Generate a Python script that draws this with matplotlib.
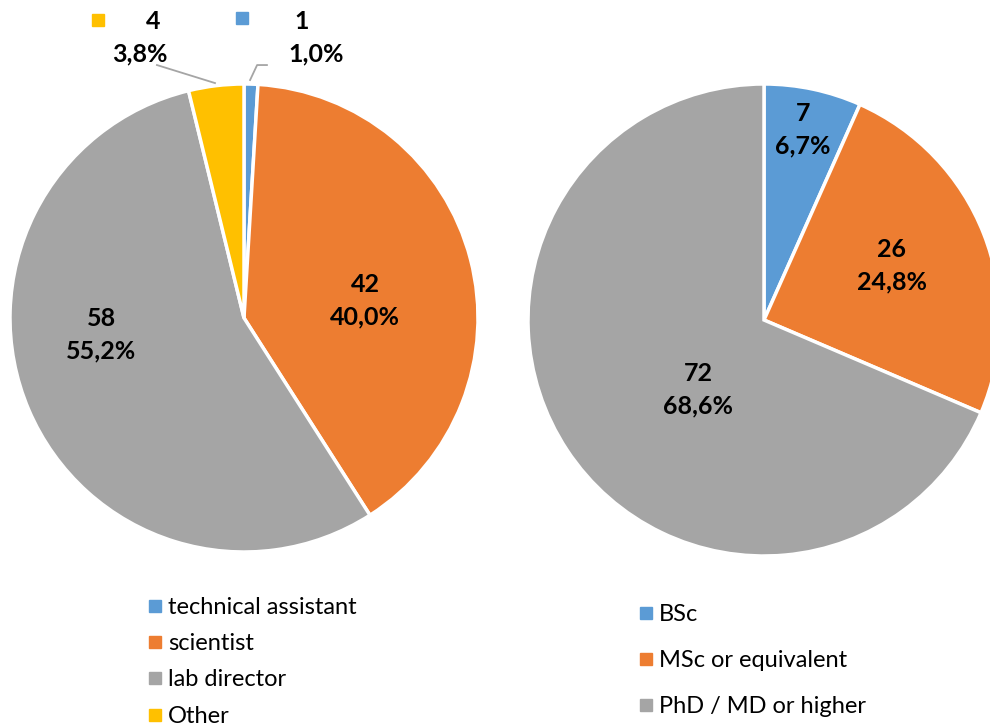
import matplotlib.pyplot as plt
from matplotlib.lines import Line2D

plt.rcParams['font.family'] = ['Lato', 'DejaVu Sans']

# left pie: position
roles = ["technical assistant", "scientist", "lab director", "Other"]
role_counts = [1, 42, 58, 4]
role_colors = ["#5B9BD5", "#ED7D31", "#A5A5A5", "#FFC000"]

# right pie: degree
degrees = ["BSc", "MSc or equivalent", "PhD / MD or higher"]
degree_counts = [7, 26, 72]
degree_colors = ["#5B9BD5", "#ED7D31", "#A5A5A5"]

W, H = 990, 727
fig = plt.figure(figsize=(W / 100, H / 100), dpi=100)


def pie_axes(cx, cy, r):
    return fig.add_axes([(cx - r) / W, (H - cy - r) / H, 2 * r / W, 2 * r / H])


def fix(ax):
    ax.set_xlim(-1, 1)
    ax.set_ylim(-1, 1)
    ax.axis("off")


def fmt(n, total):
    return f"{n}\n{n / total * 100:.1f}%".replace(".", ",")


FS = 18
lbl = dict(ha="center", va="center", fontsize=FS, fontweight="bold",
           linespacing=1.5, color="black")

# ---- left pie
ax1 = pie_axes(244, 318, 234)
ax1.pie(role_counts, colors=role_colors, startangle=90, counterclock=False,
        radius=1, wedgeprops=dict(edgecolor="white", linewidth=2.5))
fix(ax1)
tot1 = sum(role_counts)
ax1.text(0.517, 0.073, fmt(role_counts[1], tot1), **lbl)
ax1.text(-0.611, -0.073, fmt(role_counts[2], tot1), **lbl)

# outside labels for the small slices
for i, (sq, num, pct) in {3: ((-0.624, 1.274), (-0.389, 1.265), (-0.444, 1.128)),
                          0: ((-0.0085, 1.282), (0.248, 1.265), (0.308, 1.128))}.items():
    ax1.plot(*sq, marker="s", ms=8, color=role_colors[i], clip_on=False)
    ax1.text(*num, str(role_counts[i]), ha="center", va="center", fontsize=FS,
             fontweight="bold", clip_on=False)
    ax1.text(*pct, f"{role_counts[i] / tot1 * 100:.1f}%".replace(".", ","),
             ha="center", va="center", fontsize=FS, fontweight="bold", clip_on=False)
ax1.plot([-0.372, -0.124], [1.081, 1.004], color="#A5A5A5", lw=1.3, clip_on=False)
ax1.plot([0.098, 0.056, 0.026], [1.081, 1.081, 1.017], color="#A5A5A5", lw=1.3,
         clip_on=False)

# ---- right pie
ax2 = pie_axes(764, 320, 236)
ax2.pie(degree_counts, colors=degree_colors, startangle=90, counterclock=False,
        radius=1, wedgeprops=dict(edgecolor="white", linewidth=2.5))
fix(ax2)
tot2 = sum(degree_counts)
for (x, y), n in zip([(0.165, 0.805), (0.542, 0.229), (-0.28, -0.297)], degree_counts):
    ax2.text(x, y, fmt(n, tot2), **lbl)

# ---- legends
def handles(colors):
    return [Line2D([], [], marker="s", ls="", ms=8, color=c) for c in colors]


fig.legend(handles(role_colors), roles, loc="upper left",
           bbox_to_anchor=(136 / W, 1 - 585 / H), frameon=False, fontsize=17,
           handlelength=0.6, handletextpad=0.25, labelspacing=0.65, borderpad=0)
fig.legend(handles(degree_colors), degrees, loc="upper left",
           bbox_to_anchor=(627 / W, 1 - 592 / H), frameon=False, fontsize=17,
           handlelength=0.6, handletextpad=0.25, labelspacing=1.06, borderpad=0)

fig.savefig("out.png", dpi=100)
